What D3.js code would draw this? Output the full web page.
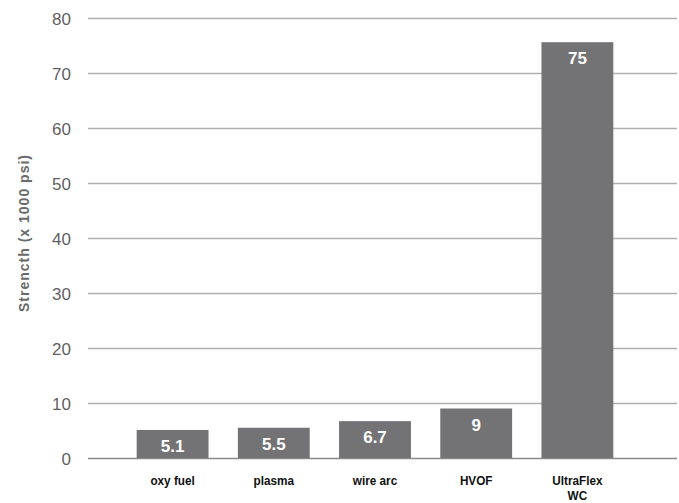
<!DOCTYPE html>
<html>
<head>
<meta charset="utf-8">
<script src="https://cdn.jsdelivr.net/npm/d3@7"></script>
<style>
  body { margin: 0; background: #fff; }
  svg { display: block; }
</style>
</head>
<body>
<div id="chart"></div>
<script>
// data
var categories = ["oxy fuel", "plasma", "wire arc", "HVOF", "UltraFlex WC"];
var values = [5.1, 5.5, 6.7, 9, 75.6];
var valueLabels = ["5.1", "5.5", "6.7", "9", "75"];
var yTicks = [0, 10, 20, 30, 40, 50, 60, 70, 80];

var svgWidth = 679;
var svgHeight = 503;

var svg = d3.select("#chart")
  .append("svg")
  .attr("width", svgWidth)
  .attr("height", svgHeight);

// scales
var xScale = d3.scaleBand()
  .domain(categories)
  .range([122, 628])
  .paddingInner(0.29)
  .paddingOuter(0.145);

var yScale = d3.scaleLinear()
  .domain([0, 80])
  .range([458, 18]);

// gridlines + tick labels
var yAxis = d3.axisLeft(yScale)
  .tickValues(yTicks)
  .tickSize(-(677 - 88))
  .tickPadding(17)
  .tickFormat(d3.format("d"));

var yAxisG = svg.append("g")
  .attr("transform", "translate(88,0)")
  .call(yAxis);

yAxisG.select(".domain").remove();
yAxisG.selectAll(".tick line")
  .attr("stroke", d => d === 0 ? "#8a8a8a" : "#b0b0b0")
  .attr("stroke-width", 1.5);
yAxisG.selectAll(".tick text")
  .attr("fill", "#5f5f5f")
  .style("font-family", "'Liberation Sans', Arial, sans-serif")
  .style("font-size", "17px")
  .attr("dy", "0.36em");

// bars
svg.append("g")
  .selectAll("rect")
  .data(values)
  .enter()
  .append("rect")
  .attr("x", (d, i) => xScale(categories[i]))
  .attr("y", d => yScale(d))
  .attr("width", xScale.bandwidth())
  .attr("height", d => yScale(0) - yScale(d))
  .attr("fill", "#737376");

// value labels inside bars
svg.append("g")
  .selectAll("text")
  .data(values)
  .enter()
  .append("text")
  .attr("x", (d, i) => xScale(categories[i]) + xScale.bandwidth() / 2)
  .attr("y", d => yScale(d) + 22)
  .attr("text-anchor", "middle")
  .attr("fill", "#ffffff")
  .style("font-family", "'Liberation Sans', Arial, sans-serif")
  .style("font-weight", "bold")
  .style("font-size", "17px")
  .text((d, i) => valueLabels[i]);

// category labels, squeezed to look condensed (UltraFlex WC wraps)
var catLabels = svg.append("g")
  .selectAll("text")
  .data(categories)
  .enter()
  .append("text")
  .attr("transform", d => `translate(${xScale(d) + xScale.bandwidth() / 2}, 485) scale(0.87, 1)`)
  .attr("text-anchor", "middle")
  .attr("fill", "#111")
  .style("font-family", "'Liberation Sans', Arial, sans-serif")
  .style("font-weight", "bold")
  .style("font-size", "13.5px");

catLabels.each(function(d) {
  var words = d === "UltraFlex WC" ? ["UltraFlex", "WC"] : [d];
  var t = d3.select(this);
  words.forEach(function(w, j) {
    t.append("tspan")
      .attr("x", 0)
      .attr("dy", j === 0 ? 0 : 15.5)
      .text(w);
  });
});

// y axis title
svg.append("text")
  .attr("transform", "translate(29,233) rotate(-90)")
  .attr("text-anchor", "middle")
  .attr("fill", "#6a6a6a")
  .style("font-family", "'Liberation Sans', Arial, sans-serif")
  .style("font-weight", "bold")
  .style("font-size", "14px")
  .style("letter-spacing", "1px")
  .text("Strencth (x 1000 psi)");
</script>
</body>
</html>
